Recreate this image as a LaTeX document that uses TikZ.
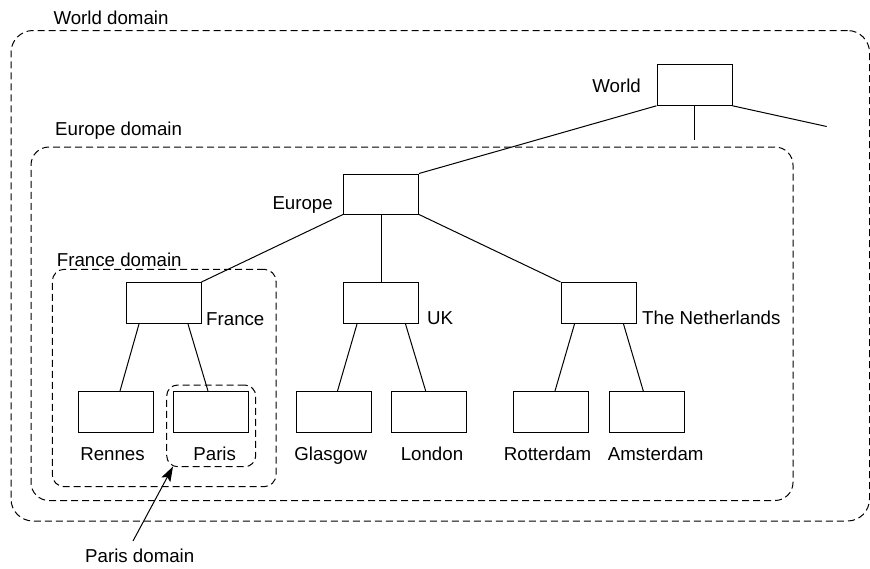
\documentclass[tikz,border=0pt]{standalone}
\usepackage{fontspec}
\setmainfont{Liberation Sans}
\usetikzlibrary{arrows.meta}
\begin{document}
\begin{tikzpicture}[x=1pt,y=-1pt,
  font=\fontsize{18.7}{22}\selectfont,
  box/.style={draw, line width=1pt, minimum width=75pt, minimum height=41pt, inner sep=0pt},
  domain/.style={draw, line width=1pt, dash pattern=on 7pt off 4pt, rounded corners=#1, inner sep=0pt},
  lbl/.style={inner sep=0pt},
  edge/.style={line width=1pt}
]
\useasboundingbox (0,0) rectangle (870,568);

% domains
\node[domain=22pt, minimum width=858.5pt, minimum height=490.5pt] (worlddom) at (440.25,275.75) {};
\node[domain=18pt, minimum width=762pt, minimum height=353.5pt] (eurodom) at (412,323.75) {};
\node[domain=12pt, minimum width=223.7pt, minimum height=217.4pt] (francedom) at (164.15,378) {};
\node[domain=11pt, minimum width=89pt, minimum height=81.7pt] (parisdom) at (211.2,425.85) {};

% domain labels
\node[lbl, anchor=base west] (worlddomlbl) at (53.3,24.6) {World domain};
\node[lbl, anchor=base west] (eurodomlbl) at (55,135.3) {Europe domain};
\node[lbl, anchor=base west] (francedomlbl) at (56.7,266.3) {France domain};
\node[lbl, anchor=base west] (parisdomlbl) at (85,562) {Paris domain};

% boxes
\node[box] (world) at (694.5,84.8) {};
\node[box, minimum height=40pt] (europe) at (381,194) {};
\node[box] (france) at (163.5,303) {};
\node[box] (uk) at (381,303) {};
\node[box] (nl) at (598.5,303) {};
\node[box] (rennes) at (116,412) {};
\node[box] (paris) at (211,412) {};
\node[box] (glasgow) at (333.5,412) {};
\node[box] (london) at (428.7,412) {};
\node[box] (rotterdam) at (551,412) {};
\node[box] (amsterdam) at (646.8,412) {};

% box labels
\node[lbl, anchor=base east] (worldlbl) at (641,92) {World};
\node[lbl, anchor=base east] (europelbl) at (333,209.5) {Europe};
\node[lbl, anchor=base west] (francelbl) at (206,325) {France};
\node[lbl, anchor=base west] (uklbl) at (427,324.3) {UK};
\node[lbl, anchor=base west] (nllbl) at (642,324) {The Netherlands};
\node[lbl, anchor=base] (renneslbl) at (112.5,460) {Rennes};
\node[lbl, anchor=base] (parislbl) at (214.7,460) {Paris};
\node[lbl, anchor=base] (glasgowlbl) at (330.7,460) {Glasgow};
\node[lbl, anchor=base] (londonlbl) at (432,460) {London};
\node[lbl, anchor=base] (rotterdamlbl) at (547.5,460) {Rotterdam};
\node[lbl, anchor=base] (amsterdamlbl) at (655.7,460) {Amsterdam};

% free ends
\coordinate (worlddown) at (694.5,140);
\coordinate (worldright) at (826.7,126.5);
\coordinate (arrstart) at (133,541);
\coordinate (arrtip) at (173,466.5);

% edges
\draw[edge] (world.south west) -- (europe.north east);
\draw[edge] (world.south) -- (worlddown);
\draw[edge] (world.south east) -- (worldright);
\draw[edge] (europe.south west) -- (france.north east);
\draw[edge] (europe.south) -- (uk.north);
\draw[edge] (europe.south east) -- (nl.north west);

\draw[edge] ([xshift=-24.5pt]france.south) -- ([xshift=4pt]rennes.north);
\draw[edge] ([xshift=24.5pt]france.south) -- ([xshift=-3pt]paris.north);
\draw[edge] ([xshift=-24pt]uk.south) -- ([xshift=4pt]glasgow.north);
\draw[edge] ([xshift=24.5pt]uk.south) -- ([xshift=-3pt]london.north);
\draw[edge] ([xshift=-24pt]nl.south) -- ([xshift=4pt]rotterdam.north);
\draw[edge] ([xshift=25pt]nl.south) -- ([xshift=-3.5pt]amsterdam.north);

\draw[edge, -{Stealth[length=15pt, width=10pt, inset=3pt]}] (arrstart) -- (arrtip);
\end{tikzpicture}
\end{document}
